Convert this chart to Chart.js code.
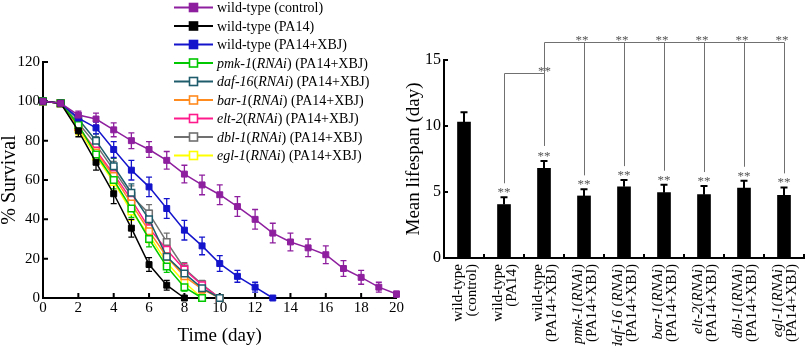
<!DOCTYPE html>
<html>
<head>
<meta charset="utf-8">
<title>Supervivencia y vida media</title>
<script src="https://cdn.jsdelivr.net/npm/chart.js@4.4.1/dist/chart.umd.min.js"></script>
<style>
  body { margin: 0; background: #fff; }
  #izq { position: absolute; left: 0; top: 0; width: 405px; height: 346px; }
  #der { position: absolute; left: 400px; top: 0; width: 409px; height: 346px; }
</style>
</head>
<body>
<div id="izq"><canvas id="graficoSupervivencia"></canvas></div>
<div id="der"><canvas id="graficoMedia"></canvas></div>
<script>
// ---- datos ----
const dias = [0,1,2,3,4,5,6,7,8,9,10,11,12,13,14,15,16,17,18,19,20];

const survControl = [100,99,93,91,85.5,80,75.5,70,63,57.5,52.5,46.5,40,33,28.5,25.5,22,15,10.5,5.5,2];
const errControl  = [0,0,2,3,3.5,4,4,4.5,4.5,5,5,5,5,5,4.5,4.5,4.5,4,3.5,2.5,1.5];
const survPA14 = [100,99,85,69,53,35.5,17,6.5,0];
const errPA14  = [0,0,3,4,5,4.5,3.5,2.5,0];
const survXBJ  = [100,99,91.5,86.5,75.5,65,56.5,45.5,34.5,26.5,17.5,11,5.5,0];
const errXBJ   = [0,0,2.5,3,4,5,5,5,5,4.5,4,3,2.5,0];
const survPmk  = [100,99,88,73,60,45.5,30,16,5.5,0];
const errPmk   = [0,0,3,4,4.5,4.5,4,3,2,0];
const survDaf  = [100,99,91,80,67,53.5,40,21,12.5,5,0];
const errDaf   = [0,0,2.5,3.5,4,4.5,4.5,4,3,2,0];
const survBar  = [100,99,87,74,62,48,34,21,11,4.5,0];
const errBar   = [0,0,3,4,4.5,4.5,4,3.5,3,2,0];
const survElt  = [100,99,87,75,63,50,35.5,24.5,14.5,6.5,0];
const errElt   = [0,0,3,4,4.5,4.5,4.5,4,3,2,0];
const survDbl  = [100,99,89,78,65,52,43,28.5,15,7,0];
const errDbl   = [0,0,3,4,4.5,5,4.5,4.5,3,2,0];
const survEgl  = [100,99,86,72,59,44,32,18,8,0];
const errEgl   = [0,0,3,4,4.5,4.5,4,3,2.5,0];

// _texto_ = cursiva
const nombresSeries = ['wild-type (control)','wild-type (PA14)','wild-type (PA14+XBJ)',
  '_pmk-1_(_RNAi_) (PA14+XBJ)','_daf-16_(_RNAi_) (PA14+XBJ)','_bar-1_(_RNAi_) (PA14+XBJ)',
  '_elt-2_(_RNAi_) (PA14+XBJ)','_dbl-1_(_RNAi_) (PA14+XBJ)','_egl-1_(_RNAi_) (PA14+XBJ)'];

const etiquetaLinea1 = ['wild-type','wild-type','wild-type','_pmk-1_(_RNAi_)','_daf-16_ (_RNAi_)',
  '_bar-1_(_RNAi_)','_elt-2_(_RNAi_)','_dbl-1_(_RNAi_)','_egl-1_(_RNAi_)'];
const etiquetaLinea2 = ['(control)','(PA14)','(PA14+XBJ)','(PA14+XBJ)','(PA14+XBJ)',
  '(PA14+XBJ)','(PA14+XBJ)','(PA14+XBJ)','(PA14+XBJ)'];
const vidaMedia  = [10.3,4.05,6.8,4.7,5.4,4.95,4.8,5.3,4.75];
const errorMedia = [0.75,0.55,0.55,0.5,0.5,0.6,0.65,0.55,0.6];
const estrellas  = ['','**','**','**','**','**','**','**','**'];
const nivelCorchete1 = 14.05;   // PA14 vs PA14+XBJ
const nivelCorchete2 = 16.35;   // PA14+XBJ vs RNAi
const grupoCorchete2 = [3,4,5,6,7,8];

const valoresSurv = [survControl,survPA14,survXBJ,survPmk,survDaf,survBar,survElt,survDbl,survEgl];
const erroresSurv = [errControl,errPA14,errXBJ,errPmk,errDaf,errBar,errElt,errDbl,errEgl];
const coloresSeries = ['#8E1F9E','#000000','#1414CC','#00C800','#1E5C6C','#FF8A1E','#FF1A8C','#707070','#FFFF00'];

const FUENTE = '"Liberation Serif", "Times New Roman", serif';

// texto con partes en cursiva
function partes(txt){
  return txt.split('_').map((t,i)=>({t:t, it:i%2===1})).filter(p=>p.t);
}
function anchoTexto(ctx, txt, size){
  let w = 0;
  for(const p of partes(txt)){
    ctx.font = (p.it?'italic ':'') + size + 'px ' + FUENTE;
    w += ctx.measureText(p.t).width;
  }
  return w;
}
function dibujarTexto(ctx, txt, x, y, size){
  ctx.textAlign = 'left';
  for(const p of partes(txt)){
    ctx.font = (p.it?'italic ':'') + size + 'px ' + FUENTE;
    ctx.fillText(p.t, x, y);
    x += ctx.measureText(p.t).width;
  }
}

// ---- grafico izquierdo ----
const erroresLinea = {
  id: 'erroresLinea',
  beforeDatasetsDraw(chart){
    const {ctx, scales:{x,y}} = chart;
    ctx.save();
    // marcas hacia dentro
    ctx.strokeStyle = '#000'; ctx.lineWidth = 2;
    ctx.beginPath();
    x.ticks.forEach(t=>{ if(t.value===0) return; const px=x.getPixelForValue(t.value); ctx.moveTo(px,y.bottom); ctx.lineTo(px,y.bottom-5); });
    y.ticks.forEach(t=>{ if(t.value===0) return; const py=y.getPixelForValue(t.value); ctx.moveTo(x.left,py); ctx.lineTo(x.left+5,py); });
    ctx.stroke();
    ctx.lineWidth = 1.3;
    for(let k=chart.data.datasets.length-1;k>=0;k--){
      const ds = chart.data.datasets[k];
      ctx.strokeStyle = ds.borderColor;
      ctx.beginPath();
      ds.data.forEach((p,i)=>{
        const e = ds.errores[i];
        if(!e) return;
        const px = x.getPixelForValue(p.x);
        const y1 = y.getPixelForValue(p.y+e), y2 = y.getPixelForValue(Math.max(0,p.y-e));
        ctx.moveTo(px,y1); ctx.lineTo(px,y2);
        ctx.moveTo(px-3,y1); ctx.lineTo(px+3,y1);
        ctx.moveTo(px-3,y2); ctx.lineTo(px+3,y2);
      });
      ctx.stroke();
    }
    ctx.restore();
  }
};

const leyendaSurv = {
  id: 'leyendaSurv',
  afterDraw(chart){
    const ctx = chart.ctx;
    ctx.save();
    chart.data.datasets.forEach((ds,i)=>{
      const yy = 7.5 + i*18.5;
      ctx.strokeStyle = ds.borderColor; ctx.lineWidth = 2;
      ctx.beginPath(); ctx.moveTo(174,yy); ctx.lineTo(213,yy); ctx.stroke();
      ctx.fillStyle = ds.pointBackgroundColor;
      ctx.fillRect(189.5,yy-4,8,8);
      ctx.lineWidth = 1.6;
      ctx.strokeRect(189.5,yy-4,8,8);
      ctx.fillStyle = '#000'; ctx.textBaseline = 'middle';
      dibujarTexto(ctx, ds.label, 217, yy+1, 14);
    });
    ctx.restore();
  }
};

const datasetsSurv = nombresSeries.map((n,i)=>({
  label: n,
  data: valoresSurv[i].map((v,j)=>({x:dias[j], y:v})),
  errores: erroresSurv[i],
  borderColor: coloresSeries[i],
  backgroundColor: coloresSeries[i],
  pointBackgroundColor: i<3 ? coloresSeries[i] : '#fff',
  pointBorderColor: coloresSeries[i],
  pointStyle: 'rect',
  pointRadius: i<3 ? 4.2 : 4.6,
  pointBorderWidth: i<3 ? 1 : 1.5,
  borderWidth: 1.5,
  tension: 0,
  clip: false
}));

new Chart(document.getElementById('graficoSupervivencia'), {
  type: 'line',
  data: { datasets: datasetsSurv },
  options: {
    responsive: true, maintainAspectRatio: false, animation: false,
    layout: { padding: { top: 62, right: 8, left: 0, bottom: 0 } },
    plugins: { legend: { display: false }, tooltip: { enabled: false } },
    scales: {
      x: {
        type: 'linear', min: 0, max: 20,
        ticks: { stepSize: 2, color: '#000', padding: 1, maxRotation: 0, font: { family: FUENTE, size: 15 } },
        grid: { display: false, drawTicks: false },
        border: { display: true, color: '#000', width: 2 },
        title: { display: true, text: 'Time (day)', color: '#000', padding: 0, font: { family: FUENTE, size: 19, lineHeight: 1.1 } },
        afterFit(s){ s.height = 48; }
      },
      y: {
        min: 0, max: 120,
        ticks: { stepSize: 20, color: '#000', padding: 3, font: { family: FUENTE, size: 15 } },
        grid: { display: false, drawTicks: false },
        border: { display: true, color: '#000', width: 2 },
        title: { display: true, text: '% Survival', color: '#000', padding: 0, font: { family: FUENTE, size: 20, lineHeight: 1 } },
        afterFit(s){ s.width = 43; }
      }
    }
  },
  plugins: [erroresLinea, leyendaSurv]
});

// ---- grafico derecho ----
const extrasMedia = {
  id: 'extrasMedia',
  afterDraw(chart){
    const {ctx, scales:{x,y}} = chart;
    const cx = i => x.getPixelForValue(i);
    const centroEstrella = i => y.getPixelForValue(vidaMedia[i]+errorMedia[i]) - 8;
    ctx.save();
    // marcas de ejes
    ctx.strokeStyle = '#000'; ctx.lineWidth = 2;
    ctx.beginPath();
    for(let i=0;i<vidaMedia.length;i++){ const px = cx(i)+20; ctx.moveTo(px,y.bottom); ctx.lineTo(px,y.bottom-4); }
    y.ticks.forEach(t=>{ if(t.value===0) return; const py=y.getPixelForValue(t.value); ctx.moveTo(x.left,py); ctx.lineTo(x.left+4,py); });
    ctx.stroke();
    // barras de error
    ctx.beginPath();
    vidaMedia.forEach((v,i)=>{
      const px = cx(i), y0 = y.getPixelForValue(v), y1 = y.getPixelForValue(v+errorMedia[i]);
      ctx.moveTo(px,y0); ctx.lineTo(px,y1);
      ctx.moveTo(px-3.5,y1); ctx.lineTo(px+3.5,y1);
    });
    ctx.stroke();
    // estrellas sobre barras
    ctx.fillStyle = '#555'; ctx.font = '13px ' + FUENTE; ctx.textAlign = 'center'; ctx.textBaseline = 'alphabetic';
    estrellas.forEach((s,i)=>{ if(s) ctx.fillText(s, cx(i), centroEstrella(i)+7); });
    // corchetes
    const y1 = Math.round(y.getPixelForValue(nivelCorchete1))+0.5;
    const y2 = Math.round(y.getPixelForValue(nivelCorchete2))+0.5;
    ctx.strokeStyle = '#707070'; ctx.lineWidth = 1;
    ctx.beginPath();
    const a = Math.round(cx(1))+0.5, b = Math.round(cx(2))+0.5;
    ctx.moveTo(a, centroEstrella(1)-6); ctx.lineTo(a, y1); ctx.lineTo(b, y1); ctx.lineTo(b, centroEstrella(2)-7);
    ctx.moveTo(b, y1); ctx.lineTo(b, y2);
    ctx.lineTo(Math.round(cx(grupoCorchete2[grupoCorchete2.length-1]))+0.5, y2);
    grupoCorchete2.forEach(k=>{ const px = Math.round(cx(k))+0.5; ctx.moveTo(px,y2); ctx.lineTo(px, centroEstrella(k)-6); });
    ctx.stroke();
    ctx.fillText('**', b, y1-5.5+7);
    grupoCorchete2.forEach(k=>{ ctx.fillText(estrellas[k], cx(k)-2, y2-5.5+7); });
    // etiquetas del eje x
    ctx.fillStyle = '#000'; ctx.textBaseline = 'middle';
    [etiquetaLinea1, etiquetaLinea2].forEach((lista,f)=>{
      lista.forEach((t,i)=>{
        ctx.save();
        ctx.translate(cx(i) + (f===0 ? -5.5 : 8), 264);
        ctx.rotate(-Math.PI/2);
        dibujarTexto(ctx, t, -anchoTexto(ctx, t, 15), 0, 15);
        ctx.restore();
      });
    });
    ctx.restore();
  }
};

new Chart(document.getElementById('graficoMedia'), {
  type: 'bar',
  data: {
    labels: etiquetaLinea1,
    datasets: [{ label: 'Mean lifespan', data: vidaMedia, backgroundColor: '#000', borderWidth: 0, barThickness: 13 }]
  },
  options: {
    responsive: true, maintainAspectRatio: false, animation: false,
    layout: { padding: { top: 60, right: 5, left: 0, bottom: 0 } },
    plugins: { legend: { display: false }, tooltip: { enabled: false } },
    scales: {
      x: {
        offset: true,
        ticks: { display: false },
        grid: { display: false, drawTicks: false },
        border: { display: true, color: '#000', width: 2 },
        afterFit(s){ s.height = 88; }
      },
      y: {
        min: 0, max: 15,
        ticks: { stepSize: 5, color: '#000', padding: 3, font: { family: FUENTE, size: 16 } },
        grid: { display: false, drawTicks: false },
        border: { display: true, color: '#000', width: 2 },
        title: { display: true, text: 'Mean lifespan (day)', color: '#000', padding: { top: 5 }, font: { family: FUENTE, size: 19, lineHeight: 1 } },
        afterFit(s){ s.width = 44; }
      }
    }
  },
  plugins: [extrasMedia]
});
</script>
</body>
</html>
